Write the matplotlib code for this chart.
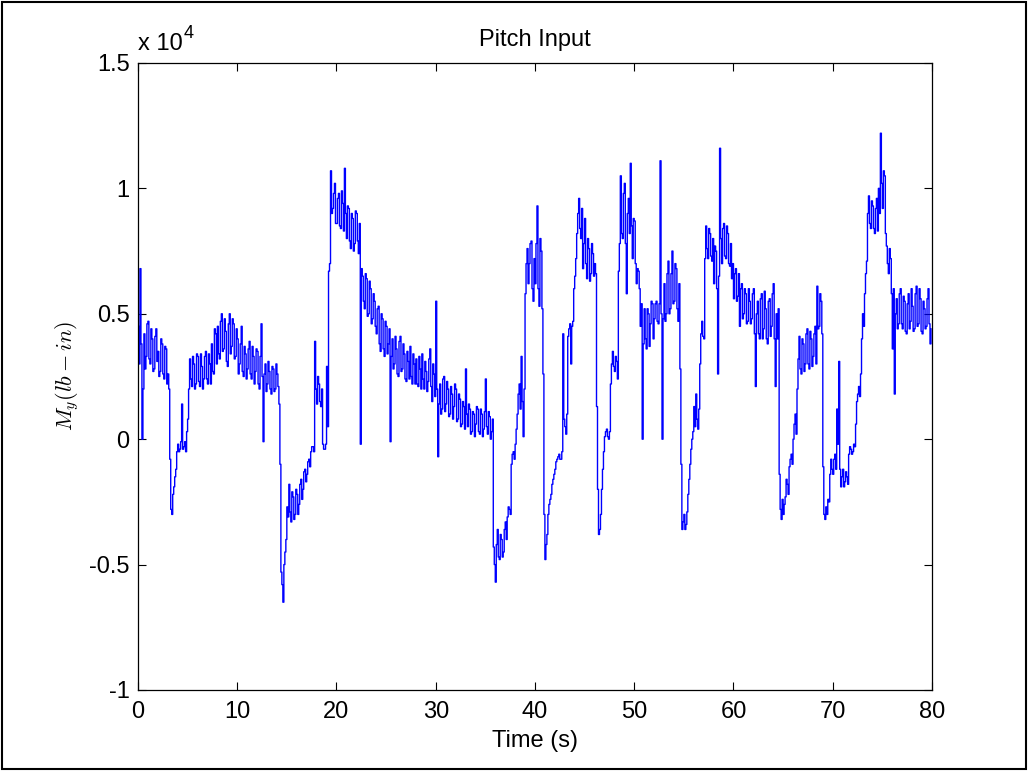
import matplotlib.pyplot as plt
import numpy as np
from matplotlib.patches import Rectangle

# pitch moment in units of 1e4 lb-in
# moment: samples at t = 0.0, 0.2, 0.4, ...
# moment_mid: samples in between, at t = 0.1, 0.3, 0.5, ...
moment = [
    0.45, 0.68, 0.00, 0.42, 0.33, 0.47, 0.30, 0.40, 0.28, 0.44,
    0.35, 0.27, 0.38, 0.24, 0.36, 0.26, -0.08, -0.30, -0.19, -0.12,
    -0.02, -0.04, 0.14, -0.03, -0.05, 0.08, 0.32, 0.21, 0.30, 0.22,
    0.33, 0.21, 0.29, 0.24, 0.35, 0.22, 0.30, 0.38, 0.26, 0.42,
    0.45, 0.32, 0.50, 0.36, 0.43, 0.29, 0.50, 0.37, 0.46, 0.33,
    0.40, 0.30, 0.45, 0.25, 0.34, 0.28, 0.39, 0.24, 0.33, 0.27,
    0.35, 0.20, 0.46, -0.01, 0.30, 0.22, 0.27, 0.18, 0.28, 0.20,
    0.26, 0.14, -0.53, -0.65, -0.45, -0.27, -0.18, -0.33, -0.23, -0.30,
    -0.22, -0.26, -0.16, -0.20, -0.12, -0.14, -0.08, -0.05, -0.03, 0.39,
    0.14, 0.22, 0.13, -0.02, -0.04, 0.29, 0.67, 1.07, 0.92, 1.02,
    0.86, 0.98, 0.84, 0.94, 1.08, 0.80, 0.92, 0.76, 0.88, 0.78,
    0.90, 0.74, -0.02, 0.65, 0.52, 0.64, 0.50, 0.60, 0.48, 0.55,
    0.42, 0.53, 0.35, 0.48, 0.33, 0.45, 0.38, -0.01, 0.40, 0.30,
    0.36, 0.25, 0.41, 0.28, 0.34, 0.23, 0.31, 0.37, 0.22, 0.30,
    0.32, 0.21, 0.28, 0.34, 0.20, 0.27, 0.23, 0.36, 0.15, 0.26,
    0.55, -0.07, 0.22, 0.12, 0.25, 0.14, 0.20, 0.10, 0.18, 0.13,
    0.20, 0.08, 0.16, 0.06, 0.13, 0.28, 0.05, 0.12, 0.03, 0.10,
    0.06, 0.12, 0.02, 0.10, 0.04, 0.24, 0.02, 0.09, 0.03, -0.43,
    -0.57, -0.36, -0.48, -0.40, -0.45, -0.33, -0.31, -0.28, -0.10, -0.05,
    -0.02, 0.10, 0.22, 0.33, 0.01, 0.58, 0.76, 0.70, 0.79, 0.55,
    0.62, 0.93, 0.53, 0.75, 0.26, -0.48, -0.38, -0.26, -0.22, -0.16,
    -0.12, -0.08, -0.06, -0.08, 0.42, 0.05, 0.10, 0.44, 0.30, 0.47,
    0.65, 0.82, 0.96, 0.80, 0.68, 0.88, 0.64, 0.76, 0.66, 0.74,
    0.70, 0.13, -0.38, -0.30, -0.12, 0.01, 0.04, 0.00, 0.22, 0.35,
    0.27, 0.31, 0.67, 1.05, 0.80, 1.02, 0.58, 0.96, 1.10, 0.72,
    0.87, 0.62, 0.67, 0.45, 0.00, 0.52, 0.36, 0.50, 0.46, 0.54,
    0.48, 0.55, 0.46, 1.11, 0.00, 0.62, 0.50, 0.71, 0.52, 0.75,
    0.55, 0.68, 0.47, 0.28, -0.36, -0.30, -0.34, -0.22, -0.10, 0.00,
    0.13, 0.18, 0.04, 0.30, 0.47, 0.40, 0.85, 0.72, 0.82, 0.71,
    0.62, 0.75, 0.26, 1.16, 0.70, 0.86, 0.72, 0.82, 0.69, 0.64,
    0.56, 0.68, 0.57, 0.45, 0.62, 0.50, 0.58, 0.47, 0.55, 0.48,
    0.60, 0.21, 0.55, 0.40, 0.58, 0.44, 0.52, 0.38, 0.56, 0.45,
    0.62, 0.21, 0.40, -0.14, -0.32, -0.30, -0.23, -0.18, -0.11, -0.06,
    0.00, 0.10, 0.20, 0.41, 0.26, 0.38, 0.30, 0.44, 0.28, 0.40,
    0.33, 0.45, 0.61, 0.45, 0.55, -0.11, -0.32, -0.30, -0.25, -0.08,
    -0.14, -0.06, 0.12, 0.31, -0.19, -0.12, -0.17, -0.15, -0.06, -0.04,
    -0.05, -0.03, 0.15, 0.21, 0.26, 0.50, 0.58, 0.71, 0.97, 0.84,
    0.93, 0.82, 0.96, 1.00, 1.22, 0.92, 1.05, 0.77, 0.66, 0.72,
    0.36, 0.18, 0.56, 0.46, 0.60, 0.44, 0.55, 0.42, 0.58, 0.47,
    0.53, 0.44, 0.61, 0.46, 0.56, 0.42, 0.52, 0.45, 0.60, 0.38,
]
moment_mid = [
    0.30, 0.38, 0.20, 0.28, 0.46, 0.32, 0.44, 0.27, 0.41, 0.31,
    0.25, 0.40, 0.26, 0.37, 0.22, 0.20, -0.28, -0.22, -0.15, -0.05,
    -0.05, -0.01, -0.04, -0.01, 0.03, 0.20, 0.24, 0.33, 0.20, 0.34,
    0.23, 0.34, 0.20, 0.33, 0.24, 0.34, 0.22, 0.27, 0.44, 0.30,
    0.34, 0.47, 0.35, 0.48, 0.31, 0.46, 0.34, 0.48, 0.32, 0.44,
    0.26, 0.38, 0.27, 0.37, 0.24, 0.36, 0.26, 0.37, 0.22, 0.36,
    0.22, 0.33, 0.25, 0.26, 0.19, 0.31, 0.20, 0.29, 0.19, 0.30,
    0.21, -0.10, -0.58, -0.50, -0.40, -0.31, -0.29, -0.21, -0.32, -0.20,
    -0.30, -0.18, -0.24, -0.13, -0.17, -0.09, -0.11, -0.03, -0.05, 0.20,
    0.25, 0.15, 0.20, -0.04, -0.02, 0.05, 0.70, 0.90, 0.98, 0.86,
    0.96, 0.85, 0.99, 0.83, 0.90, 0.93, 0.79, 0.90, 0.75, 0.91,
    0.79, 0.86, 0.68, 0.55, 0.66, 0.49, 0.63, 0.46, 0.58, 0.45,
    0.52, 0.38, 0.50, 0.36, 0.47, 0.34, 0.44, 0.33, 0.28, 0.41,
    0.26, 0.39, 0.27, 0.38, 0.24, 0.35, 0.24, 0.25, 0.34, 0.22,
    0.22, 0.33, 0.20, 0.24, 0.31, 0.19, 0.32, 0.21, 0.30, 0.17,
    0.20, 0.14, 0.10, 0.24, 0.11, 0.23, 0.09, 0.21, 0.08, 0.22,
    0.07, 0.18, 0.05, 0.15, 0.04, 0.10, 0.14, 0.02, 0.11, 0.01,
    0.13, 0.03, 0.12, 0.01, 0.11, 0.05, 0.11, 0.00, 0.08, -0.50,
    -0.42, -0.47, -0.38, -0.47, -0.36, -0.40, -0.27, -0.30, -0.06, -0.08,
    0.04, 0.18, 0.12, 0.15, 0.20, 0.70, 0.62, 0.78, 0.60, 0.72,
    0.78, 0.60, 0.80, 0.52, -0.30, -0.42, -0.30, -0.24, -0.18, -0.14,
    -0.09, -0.07, -0.08, -0.05, 0.08, 0.02, 0.41, 0.46, 0.45, 0.60,
    0.72, 0.90, 0.84, 0.92, 0.78, 0.70, 0.80, 0.63, 0.78, 0.65,
    0.66, -0.20, -0.36, -0.20, -0.05, 0.03, 0.01, 0.03, 0.30, 0.29,
    0.33, 0.24, 0.78, 0.82, 0.98, 0.78, 0.90, 0.82, 0.85, 0.88,
    0.70, 0.68, 0.60, 0.54, 0.38, 0.40, 0.52, 0.37, 0.55, 0.40,
    0.54, 0.47, 0.54, 0.50, 0.48, 0.47, 0.66, 0.50, 0.66, 0.54,
    0.70, 0.52, 0.62, -0.10, -0.33, -0.36, -0.29, -0.16, -0.04, 0.03,
    0.05, 0.08, 0.12, 0.42, 0.41, 0.72, 0.76, 0.84, 0.73, 0.80,
    0.77, 0.60, 0.65, 0.80, 0.84, 0.73, 0.85, 0.70, 0.78, 0.70,
    0.66, 0.55, 0.66, 0.60, 0.48, 0.60, 0.46, 0.60, 0.46, 0.58,
    0.42, 0.50, 0.42, 0.56, 0.40, 0.59, 0.40, 0.55, 0.41, 0.58,
    0.40, 0.50, 0.52, -0.28, -0.24, -0.26, -0.16, -0.22, -0.08, -0.10,
    0.06, 0.02, 0.32, 0.28, 0.40, 0.27, 0.42, 0.30, 0.43, 0.29,
    0.42, 0.30, 0.44, 0.58, 0.42, -0.30, -0.27, -0.24, -0.14, -0.12,
    -0.08, -0.12, -0.02, -0.12, -0.15, -0.19, -0.13, -0.18, -0.03, -0.06,
    -0.02, 0.06, 0.18, 0.17, 0.40, 0.45, 0.66, 0.90, 0.86, 0.95,
    0.84, 0.92, 0.83, 0.90, 1.02, 1.07, 0.82, 0.70, 0.76, 0.58,
    0.60, 0.50, 0.44, 0.58, 0.46, 0.57, 0.43, 0.54, 0.44, 0.60,
    0.43, 0.58, 0.45, 0.60, 0.43, 0.55, 0.44, 0.56, 0.46, 0.44,
]
dt = 0.1

xticks = [0, 10, 20, 30, 40, 50, 60, 70, 80]
yticks = [-1, -0.5, 0, 0.5, 1, 1.5]
yticklabels = ['-1', '-0.5', '0', '0.5', '1', '1.5']

# merge the two sample sets into one record on a 0.1 s grid
signal = np.column_stack([moment, moment_mid]).ravel()
time = np.arange(len(signal)) * dt

plt.rcParams['font.family'] = ['Liberation Sans', 'DejaVu Sans']
plt.rcParams['mathtext.fontset'] = 'cm'

fig = plt.figure(figsize=(10.28, 7.71), dpi=100)
fig.patches.append(Rectangle((0.002, 0.003), 0.996, 0.994, transform=fig.transFigure,
                             fill=False, edgecolor='black', linewidth=1.5))
ax = fig.add_axes([0.1342, 0.1051, 0.7724, 0.8132])

ax.plot(time, signal, color='#0000ff', linewidth=1.0, drawstyle='steps-post')

ax.set_xlim(0, 80)
ax.set_ylim(-1, 1.5)
ax.set_xticks(xticks)
ax.set_yticks(yticks)
ax.set_yticklabels(yticklabels)
ax.tick_params(direction='in', length=6, width=0.8, top=True, right=True,
               labelsize=17, colors='black')
ax.tick_params(axis='x', pad=8)
ax.tick_params(axis='y', pad=6)
for s in ax.spines.values():
    s.set_linewidth(0.9)

ax.set_title('Pitch Input', fontsize=17, pad=12)
ax.set_xlabel('Time (s)', fontsize=17, labelpad=5)
ax.set_ylabel(r'$M_y(lb-in)$', fontsize=16, labelpad=6)

# axis multiplier drawn above the top-left corner
ax.text(0.0, 1.013, 'x 10', transform=ax.transAxes, fontsize=17,
        ha='left', va='bottom')
ax.text(0.057, 1.033, '4', transform=ax.transAxes, fontsize=13,
        ha='left', va='bottom')

fig.savefig('out.png', dpi=100)
